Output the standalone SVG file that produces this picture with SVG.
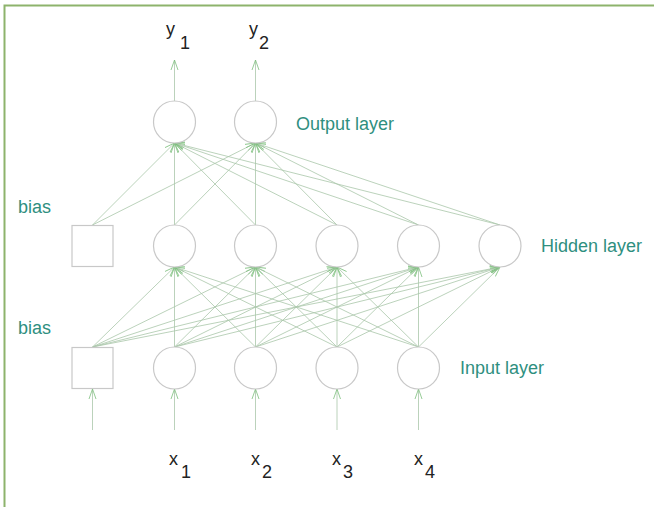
<svg xmlns="http://www.w3.org/2000/svg" width="654" height="507" viewBox="0 0 654 507">
<defs>
<style>
.frame{stroke:#8db36c;stroke-width:2;fill:none}
.node{fill:#fff;stroke:#c8c8c8;stroke-width:1.2}
.c{stroke:#a9c6a9;stroke-width:0.8;fill:none;marker-end:url(#ah)}
.lbl{font-family:"Liberation Sans",Arial,sans-serif;font-size:18px;fill:#2f8f7f}
.var{font-family:"Liberation Sans",Arial,sans-serif;font-size:18px;fill:#222}
</style>
<marker id="ah" markerUnits="userSpaceOnUse" markerWidth="12" markerHeight="9" refX="10" refY="4.5" orient="auto">
<path d="M0,1 L10,4.5 L0,8" fill="none" stroke="#7cbf7c" stroke-width="0.8"/>
</marker>
</defs>
<rect width="654" height="507" fill="#fff"/>
<path class="frame" d="M4.5,507 V5.5 H654"/>
<g id="connectors">
<!-- input layer to hidden layer -->
<line class="c" x1="92.5" y1="347" x2="174.5" y2="267"/>
<line class="c" x1="92.5" y1="347" x2="255.5" y2="267"/>
<line class="c" x1="92.5" y1="347" x2="337" y2="267"/>
<line class="c" x1="92.5" y1="347" x2="418.5" y2="267"/>
<line class="c" x1="92.5" y1="347" x2="500" y2="267"/>
<line class="c" x1="174.5" y1="347" x2="174.5" y2="267"/>
<line class="c" x1="174.5" y1="347" x2="255.5" y2="267"/>
<line class="c" x1="174.5" y1="347" x2="337" y2="267"/>
<line class="c" x1="174.5" y1="347" x2="418.5" y2="267"/>
<line class="c" x1="174.5" y1="347" x2="500" y2="267"/>
<line class="c" x1="255.5" y1="347" x2="174.5" y2="267"/>
<line class="c" x1="255.5" y1="347" x2="255.5" y2="267"/>
<line class="c" x1="255.5" y1="347" x2="337" y2="267"/>
<line class="c" x1="255.5" y1="347" x2="418.5" y2="267"/>
<line class="c" x1="255.5" y1="347" x2="500" y2="267"/>
<line class="c" x1="337" y1="347" x2="174.5" y2="267"/>
<line class="c" x1="337" y1="347" x2="255.5" y2="267"/>
<line class="c" x1="337" y1="347" x2="337" y2="267"/>
<line class="c" x1="337" y1="347" x2="418.5" y2="267"/>
<line class="c" x1="337" y1="347" x2="500" y2="267"/>
<line class="c" x1="418.5" y1="347" x2="174.5" y2="267"/>
<line class="c" x1="418.5" y1="347" x2="255.5" y2="267"/>
<line class="c" x1="418.5" y1="347" x2="337" y2="267"/>
<line class="c" x1="418.5" y1="347" x2="418.5" y2="267"/>
<line class="c" x1="418.5" y1="347" x2="500" y2="267"/>
<!-- hidden layer to output layer -->
<line class="c" x1="92.5" y1="225" x2="174.5" y2="143"/>
<line class="c" x1="92.5" y1="225" x2="255.5" y2="143"/>
<line class="c" x1="174.5" y1="225" x2="174.5" y2="143"/>
<line class="c" x1="174.5" y1="225" x2="255.5" y2="143"/>
<line class="c" x1="255.5" y1="225" x2="174.5" y2="143"/>
<line class="c" x1="255.5" y1="225" x2="255.5" y2="143"/>
<line class="c" x1="337" y1="225" x2="174.5" y2="143"/>
<line class="c" x1="337" y1="225" x2="255.5" y2="143"/>
<line class="c" x1="418.5" y1="225" x2="174.5" y2="143"/>
<line class="c" x1="418.5" y1="225" x2="255.5" y2="143"/>
<line class="c" x1="500" y1="225" x2="174.5" y2="143"/>
<line class="c" x1="500" y1="225" x2="255.5" y2="143"/>
<!-- outputs -->
<line class="c" x1="174.5" y1="101" x2="174.5" y2="60"/>
<line class="c" x1="255.5" y1="101" x2="255.5" y2="60"/>
<!-- inputs -->
<line class="c" x1="92.5" y1="430" x2="92.5" y2="389"/>
<line class="c" x1="174.5" y1="430" x2="174.5" y2="389"/>
<line class="c" x1="255.5" y1="430" x2="255.5" y2="389"/>
<line class="c" x1="337" y1="430" x2="337" y2="389"/>
<line class="c" x1="418.5" y1="430" x2="418.5" y2="389"/>
</g>
<g id="out1"><circle class="node" cx="174.5" cy="122" r="21"/></g>
<g id="out2"><circle class="node" cx="255.5" cy="122" r="21"/></g>
<g id="hbias"><rect class="node" x="72" y="225.5" width="41" height="41"/></g>
<g id="h1"><circle class="node" cx="174.5" cy="246" r="21"/></g>
<g id="h2"><circle class="node" cx="255.5" cy="246" r="21"/></g>
<g id="h3"><circle class="node" cx="337" cy="246" r="21"/></g>
<g id="h4"><circle class="node" cx="418.5" cy="246" r="21"/></g>
<g id="h5"><circle class="node" cx="500" cy="246" r="21"/></g>
<g id="ibias"><rect class="node" x="72" y="347.5" width="41" height="41"/></g>
<g id="i1"><circle class="node" cx="174.5" cy="368" r="21"/></g>
<g id="i2"><circle class="node" cx="255.5" cy="368" r="21"/></g>
<g id="i3"><circle class="node" cx="337" cy="368" r="21"/></g>
<g id="i4"><circle class="node" cx="418.5" cy="368" r="21"/></g>
<g id="labels">
<text class="lbl" x="296" y="130">Output layer</text>
<text class="lbl" x="541" y="252">Hidden layer</text>
<text class="lbl" x="460" y="374">Input layer</text>
<text class="lbl" x="18" y="213">bias</text>
<text class="lbl" x="18" y="334">bias</text>
<text class="var" x="166" y="35">y</text><text class="var" x="180" y="49" font-size="16">1</text>
<text class="var" x="249" y="35">y</text><text class="var" x="259" y="49" font-size="16">2</text>
<text class="var" x="169" y="465">x</text><text class="var" x="181" y="478">1</text>
<text class="var" x="251" y="465">x</text><text class="var" x="262" y="478">2</text>
<text class="var" x="332" y="465">x</text><text class="var" x="343" y="478">3</text>
<text class="var" x="414" y="465">x</text><text class="var" x="425" y="478">4</text>
</g>
</svg>
